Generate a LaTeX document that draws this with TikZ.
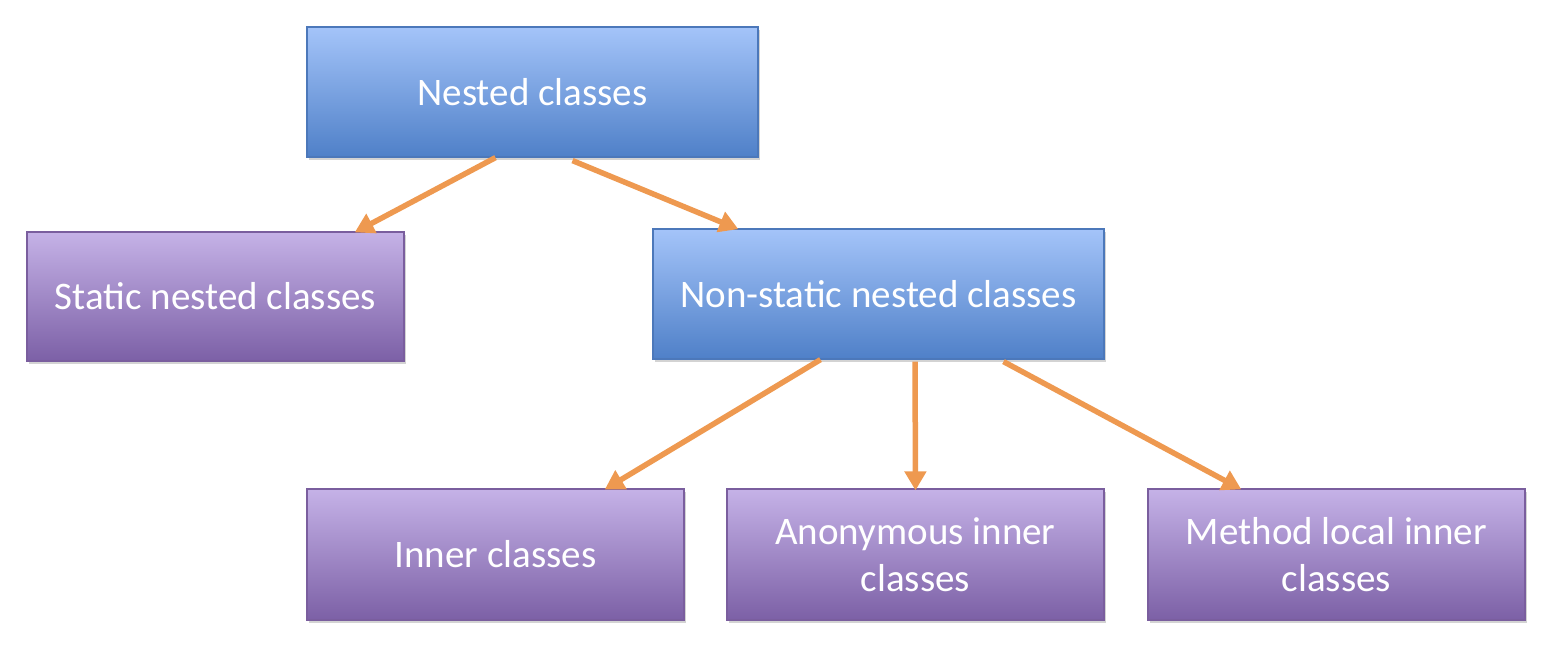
\documentclass[tikz,border=0pt]{standalone}
\usepackage{fontspec}
\setmainfont{Carlito}
\usepackage{tikz}
\usetikzlibrary{arrows.meta,shadows}
\definecolor{bluetop}{HTML}{A4C4F9}
\definecolor{bluemid}{HTML}{90B2F0}
\definecolor{bluebot}{HTML}{4F80C8}
\definecolor{blueline}{HTML}{4C78BA}
\definecolor{purptop}{HTML}{C5B2E7}
\definecolor{purpmid}{HTML}{B7A3DD}
\definecolor{purpbot}{HTML}{7C60A6}
\definecolor{purpline}{HTML}{7A5E9E}
\definecolor{arrorange}{HTML}{EE9950}
\begin{document}
\begin{tikzpicture}[x=1pt,y=-1pt]
\tikzstyle{every node}+=[inner sep=0pt, text=white, align=center, font=\fontsize{39}{47.5}\selectfont]
\tikzstyle{bluebox}=[draw=blueline, line width=1.2pt, top color=bluetop, middle color=bluemid, bottom color=bluebot, drop shadow={opacity=0.35, shadow xshift=1.5pt, shadow yshift=-3pt}]
\tikzstyle{purpbox}=[draw=purpline, line width=1.2pt, top color=purptop, middle color=purpmid, bottom color=purpbot, drop shadow={opacity=0.35, shadow xshift=1.5pt, shadow yshift=-3pt}]
\tikzstyle{link}=[draw=arrorange, line width=5.5pt, -{Triangle[length=19pt,width=21pt]}, shorten >=-2pt]
\useasboundingbox (0,0) rectangle (1550,656);
\node [bluebox, minimum width=451pt, minimum height=130pt] (nested) at (532.5,92) {Nested classes};
\node [purpbox, minimum width=377pt, minimum height=129pt] (static) at (215.5,296.5) {Static nested classes};
\node [bluebox, minimum width=451pt, minimum height=130pt] (nonstatic) at (878.5,294) {Non-static nested classes};
\node [purpbox, minimum width=377pt, minimum height=131pt] (inner) at (495.5,554.5) {Inner classes};
\node [purpbox, minimum width=377pt, minimum height=131pt] (anon) at (915.5,554.5) {Anonymous inner\\classes};
\node [purpbox, minimum width=377pt, minimum height=131pt] (method) at (1336.5,554.5) {Method local inner\\classes};
\draw [link] ([xshift=-37pt]nested.south) -- ([xshift=141pt]static.north);
\draw [link] ([xshift=40pt,yshift=-3pt]nested.south) -- ([xshift=-142pt]nonstatic.north);
\draw [link] ([xshift=-58pt]nonstatic.south) -- ([xshift=111pt]inner.north);
\draw [link] ([xshift=36.5pt,yshift=-2pt]nonstatic.south) -- (anon.north);
\draw [link] ([xshift=125pt,yshift=-2pt]nonstatic.south) -- ([xshift=-97pt]method.north);
\end{tikzpicture}
\end{document}
